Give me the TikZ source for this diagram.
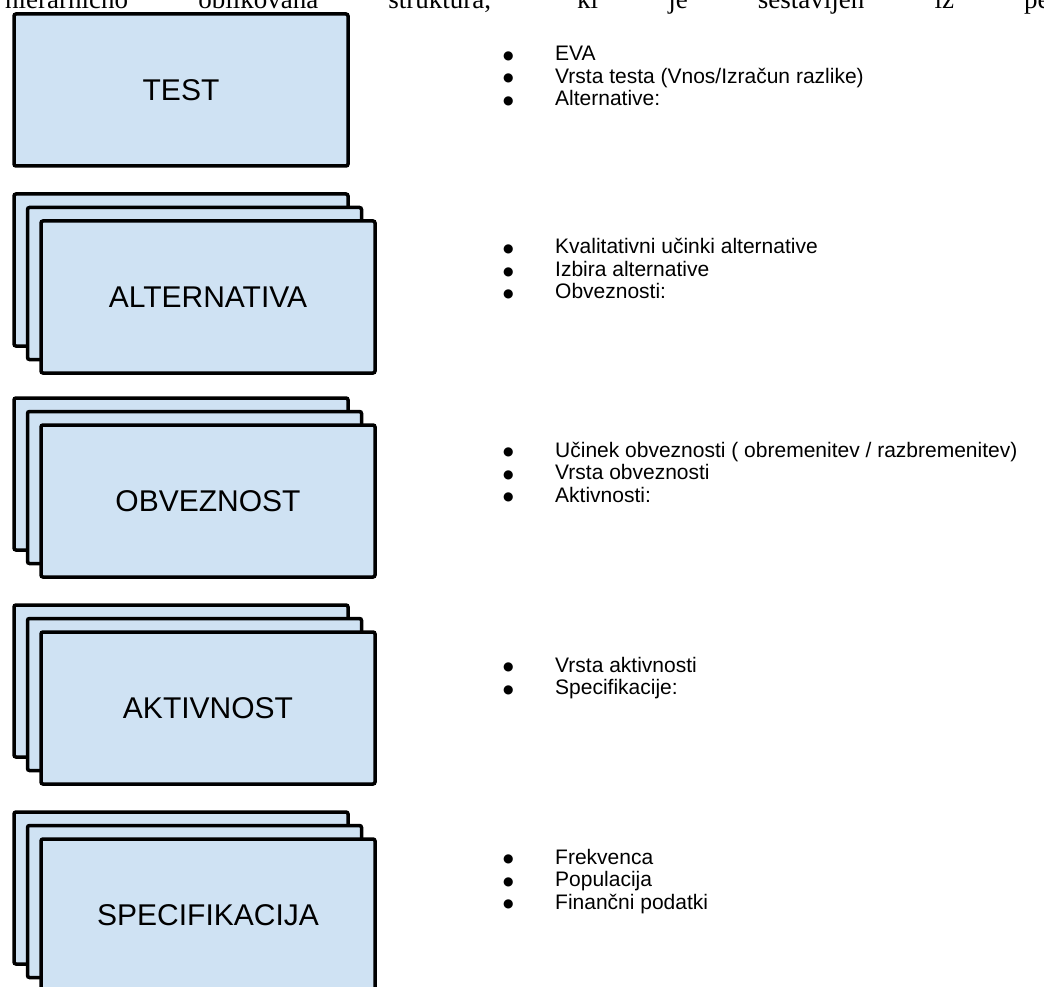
\documentclass[tikz,border=0pt]{standalone}
\usepackage{fontspec}
\setmainfont{Liberation Sans}
\newfontfamily\introfont{Liberation Serif}
\newfontfamily\dotfont{DejaVu Sans}
\usetikzlibrary{positioning}
\definecolor{cardblue}{HTML}{CFE2F3}
\tikzset{card/.style={draw=black,line width=3.5pt,fill=cardblue,rounded corners=2pt,
    minimum width=334pt,minimum height=152pt,inner sep=0pt,font=\fontsize{30}{32}\selectfont}}
\tikzset{itemlist/.style={anchor=base west,inner sep=0pt,font=\fontsize{21}{22.5}\selectfont}}
\newcommand{\bul}{\makebox[52pt][l]{\raisebox{1.5pt}{\dotfont\fontsize{12}{12}\selectfont ●}}}

\begin{document}
\begin{tikzpicture}[x=1pt,y=-1pt]
	\path[use as bounding box,clip] (0,0) rectangle (1044,987); %page
	\node[anchor=base west,inner sep=0pt,font=\introfont\fontsize{27}{30}\selectfont] (intro) at (5,9)
		{\makebox[1052pt][s]{hierarhično oblikovana struktura, ki je sestavljen iz pet}};

	\node[card] (test) at (181,90) {TEST};
	\foreach \n/\y/\t in {alt/270/ALTERNATIVA,obv/474/OBVEZNOST,akt/681/AKTIVNOST,spec/888/SPECIFIKACIJA}{
		\node[card] (\n3) at (181,\y) {};
		\node[card] (\n2) at (194.5,\y+13.5) {};
		\node[card] (\n) at (208,\y+27) {\t};
	}

	% lists
	\node[itemlist] (testlist) at (503,61) {\begin{tabular}[t]{@{}l@{}}
		\bul EVA\\ \bul Vrsta testa (Vnos/Izračun razlike)\\ \bul Alternative:\end{tabular}};
	\node[itemlist] (altlist) at (503,254) {\begin{tabular}[t]{@{}l@{}}
		\bul Kvalitativni učinki alternative\\ \bul Izbira alternative\\ \bul Obveznosti:\end{tabular}};
	\node[itemlist] (obvlist) at (503,457) {\begin{tabular}[t]{@{}l@{}}
		\bul Učinek obveznosti ( obremenitev / razbremenitev)\\ \bul Vrsta obveznosti\\ \bul Aktivnosti:\end{tabular}};
	\node[itemlist] (aktlist) at (503,672) {\begin{tabular}[t]{@{}l@{}}
		\bul Vrsta aktivnosti\\ \bul Specifikacije:\end{tabular}};
	\node[itemlist] (speclist) at (503,864) {\begin{tabular}[t]{@{}l@{}}
		\bul Frekvenca\\ \bul Populacija\\ \bul Finančni podatki\end{tabular}};
\end{tikzpicture}
\end{document}
